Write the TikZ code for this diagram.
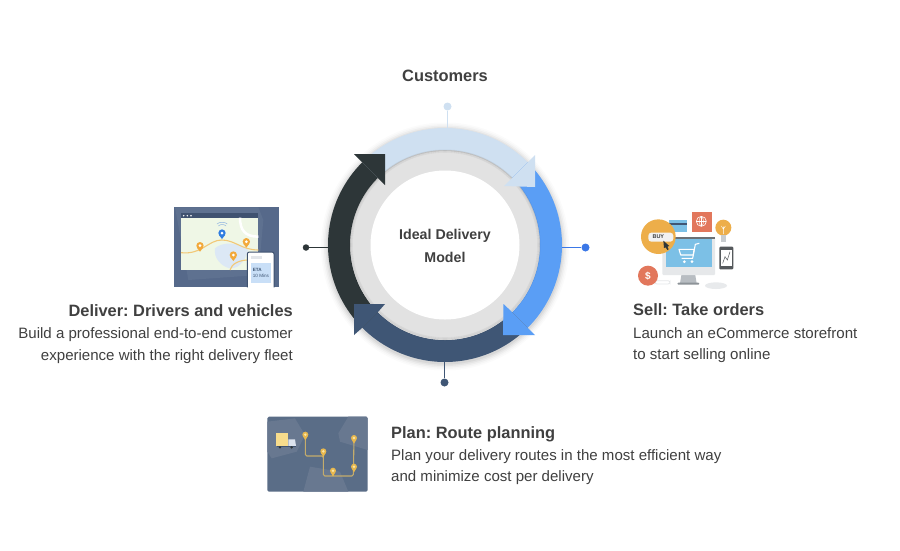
\documentclass[tikz,border=0pt]{standalone}
\usepackage{fontspec}
\setmainfont{Liberation Sans}
\frenchspacing
\definecolor{cLight}{HTML}{CFE0F1}
\definecolor{cBlue}{HTML}{5A9EF5}
\definecolor{cBlueDot}{HTML}{3B78E7}
\definecolor{cNavy}{HTML}{3F5675}
\definecolor{cDark}{HTML}{2D3638}
\definecolor{cText}{HTML}{404040}
\definecolor{cSlate}{HTML}{5A6D87}
\definecolor{cOrange}{HTML}{EDAE4A}
\definecolor{cRed}{HTML}{E2775C}
\definecolor{cSky}{HTML}{7CC0E6}
\definecolor{cPinO}{HTML}{F2A93B}
\definecolor{cPinB}{HTML}{2F7DE1}
\tikzset{
  hx/.code={\definecolor{tmpc}{HTML}{#1}\tikzset{color=tmpc}},
  dot/.style={circle,inner sep=0pt,minimum size=8pt,draw=none},
  stem/.style={line width=1.5pt},
  titletext/.style={text=cText,font=\bfseries\fontsize{16.4}{18}\selectfont,inner sep=0pt},
  bodytext/.style={text=cText,font=\fontsize{15.05}{17}\selectfont,inner sep=0pt},
}
\newcommand{\sector}[3]{% colour, from, to
  \fill[#1] plot[domain=#2:#3,samples=40] ({445+117*cos(\x)},{245-117*sin(\x)})
   -- plot[domain=#3:#2,samples=40] ({445+95*cos(\x)},{245-95*sin(\x)}) -- cycle;}
\begin{document}
\begin{tikzpicture}[x=1pt,y=-1pt]
\useasboundingbox (0,0) rectangle (900,550);
\fill[white] (0,0) rectangle (900,550);
% soft outer shadow
\foreach \r/\o in {124/.015,122.5/.02,121/.03,119.5/.04,118/.05}
  \fill[black,opacity=\o] (445,246.5) circle[radius=\r pt];
% ring
\coordinate (ringtop) at (447.5,128);
\coordinate (ringright) at (561,247.5);
\coordinate (ringbottom) at (444.5,361);
\coordinate (ringleft) at (329,247.5);
\node[dot,fill=cLight] (dtop) at (447.5,106.5) {};
\node[dot,fill=cBlueDot] (dright) at (585.5,247.5) {};
\node[dot,fill=cNavy] (dbottom) at (444.5,382.5) {};
\node[dot,fill=cDark,minimum size=6.5pt] (dleft) at (306,247.5) {};
\draw[stem,cLight] (dtop) -- (ringtop);
\draw[stem,cBlueDot] (dright) -- (ringright);
\draw[stem,cNavy] (dbottom) -- (ringbottom);
\draw[stem,cDark,line width=1.2pt] (dleft) -- (ringleft);
\sector{cLight}{135}{45}
\sector{cBlue}{45}{-45}
\sector{cNavy}{-45}{-135}
\sector{cDark}{-135}{-225}
% gray ring
\fill[black,opacity=.06] (445,245) circle[radius=95.5pt];
\fill[hx=E2E2E2] (445,245.5) circle[radius=94.5pt];
\foreach \r/\o in {94.5/.05,94/.05,93.5/.04,93/.03,92.5/.03}
  \draw[black,opacity=\o,line width=.6pt] (445,245) circle[radius=\r pt];
\fill[white] (445,245) circle[radius=74.5pt];
% arrow heads
\fill[cLight] (528,162) -- (535,155) -- (535,187) -- (504,186) -- (512,178) -- cycle;
\fill[cBlue] (528,328) -- (535,335) -- (503,335) -- (503.5,304) -- (512,312) -- cycle;
\fill[cNavy] (362,328) -- (354,335) -- (354,304) -- (385,304) -- (378,312) -- cycle;
\fill[cDark] (362,162) -- (354,154) -- (385,154) -- (385,185) -- (378,178) -- cycle;
\node[titletext,font=\bfseries\fontsize{14.2}{17}\selectfont] (centerA) at (445,236) {Ideal Delivery};
\node[titletext,font=\bfseries\fontsize{14.2}{17}\selectfont] (centerB) at (445,257) {Model};
\node[titletext,anchor=base] (customers) at (445,81.5) {Customers};
% texts
\node[titletext,anchor=base east] (dt) at (293,316) {Deliver: Drivers and vehicles};
\node[bodytext,anchor=base east] (d1) at (293,338) {Build a professional end-to-end customer};
\node[bodytext,anchor=base east] (d2) at (293,360) {experience with the right delivery fleet};
\node[titletext,anchor=base west] (st) at (633,315) {Sell: Take orders};
\node[bodytext,anchor=base west] (s1) at (633,338) {Launch an eCommerce storefront};
\node[bodytext,anchor=base west] (s2) at (633,359) {to start selling online};
\node[titletext,anchor=base west] (pt) at (391,438) {Plan: Route planning};
\node[bodytext,anchor=base west] (p1) at (391,460) {Plan your delivery routes in the most efficient way};
\node[bodytext,anchor=base west] (p2) at (391,481) {and minimize cost per delivery};
% Deliver icon
\begin{scope}[shift={(165,200)},scale=1/3]
  \fill[hx=56698A] (28,22) rectangle (343,262);
  \fill[hx=5E7190] (30,22) -- (280,22) -- (295,60) -- (280,225) -- (70,240) -- cycle;
  \fill[hx=EFF7E6] (48,53) rectangle (280,210);
  \fill[hx=3F5270] (48,40) rectangle (280,53);
  \foreach \x in {56,67,78} \fill[white] (\x,47) circle[radius=2.5pt];
  \fill[hx=DCE8F5] (150,145) .. controls (170,125) and (225,125) .. (250,150)
     .. controls (240,175) and (230,205) .. (195,205) .. controls (170,200) and (145,175) .. (150,145) -- cycle;
  \draw[white,line width=2.5pt] (225,53) .. controls (225,90) and (240,110) .. (280,110);
  \draw[hx=F2C877,line width=1.1pt] (48,158) .. controls (110,165) and (130,120) .. (170,120)
     .. controls (210,120) and (230,150) .. (280,150);
  \draw[hx=F2C877,line width=1.1pt] (195,210) .. controls (200,190) and (225,180) .. (250,180);
  \foreach \x/\y/\c in {105/137/cPinO,244/125/cPinO,205/165/cPinO,171/99/cPinB}{
    \fill[\c] (\x,\y) circle[radius=11pt];
    \fill[\c] (\x-9,\y+6) -- (\x,\y+18) -- (\x+9,\y+6) -- cycle;
    \fill[white] (\x,\y) circle[radius=4.5pt];
  }
  \draw[hx=8FB4E0,line width=.5pt] (160,78) .. controls (165,72) and (178,72) .. (183,78);
  \draw[hx=8FB4E0,line width=.5pt] (156,72) .. controls (163,65) and (180,65) .. (187,72);
  \fill[white] (245,155) rectangle (328,262);
  \draw[hx=3F5270,line width=1pt,rounded corners=2pt] (247,262) -- (247,156) -- (327,156) -- (327,262);
  \fill[hx=C9DFF7] (257,190) rectangle (318,250);
  \fill[hx=E3E6EA] (257,168) rectangle (290,178);
  \node[font=\bfseries\fontsize{4.6}{5}\selectfont,text=cNavy,inner sep=0pt,anchor=west] (eta) at (263,209) {ETA};
  \node[font=\fontsize{4.6}{5}\selectfont,text=cNavy,inner sep=0pt,anchor=west] (mins) at (263,229) {10 Mins};
\end{scope}
% Sell icon
\begin{scope}[shift={(630,210)},scale=1/3]
  \draw[hx=E5E7E9,line width=.8pt,rounded corners=2pt] (75,212) rectangle (120,222);
  \draw[hx=E5E7E9,line width=.8pt] (100,180) -- (145,180);
  \fill[cRed] (185,5) rectangle (245,65);
  \draw[white,line width=.6pt] (214,34) circle[radius=15pt];
  \draw[white,line width=.4pt] (199,34) -- (229,34) (214,19) -- (214,49);
  \draw[white,line width=.4pt] (214,19) .. controls (205,27) and (205,41) .. (214,49) .. controls (223,41) and (223,27) .. (214,19);
  \fill[cSky] (117,30) rectangle (172,65);
  \fill[hx=3F5675] (117,38) rectangle (172,44);
  % monitor
  \fill[hx=B8BDC2] (155,190) -- (195,190) -- (200,220) -- (150,220) -- cycle;
  \fill[hx=8D9398,rounded corners=1pt] (142,218) rectangle (208,224);
  \fill[hx=E6E8EA,rounded corners=1pt] (97,82) rectangle (255,195);
  \fill[hx=6B7075] (97,82) rectangle (255,88);
  \fill[cSky] (107,88) rectangle (245,172);
  \draw[white,line width=1.1pt,line join=round] (208,100) -- (196,103) -- (188,145) -- (155,145);
  \draw[white,line width=1.1pt,line join=round] (147,118) -- (192,118) -- (190,135) -- (152,135) -- cycle;
  \fill[white] (163,155) circle[radius=4.5pt] (186,155) circle[radius=4.5pt];
  % orange badge
  \fill[cOrange] (85,80) circle[radius=52pt];
  \fill[hx=F2F2F2,rounded corners=3pt] (55,68) rectangle (130,95);
  \node[font=\bfseries\fontsize{5.5}{6}\selectfont,text=cText,inner sep=0pt] (buy) at (85,81) {BUY};
  \fill[hx=2D3638] (100,92) -- (118,108) -- (112,110) -- (116,118) -- (112,120) -- (107,112) -- (102,114) -- cycle;
  % bulb
  \fill[cOrange] (280,53) circle[radius=24pt];
  \fill[hx=C9CDD0] (272,74) rectangle (288,95);
  \draw[white,line width=.4pt] (280,72) -- (280,50) (274,48) -- (280,58) -- (286,48);
  % phone
  \fill[hx=55595C,rounded corners=1pt] (268,110) rectangle (310,178);
  \fill[white] (272,119) rectangle (306,168);
  \draw[hx=55595C,line width=.5pt] (278,160) -- (285,140) -- (292,150) -- (300,125);
  % dollar
  \fill[cRed] (54,197) circle[radius=30pt];
  \node[font=\bfseries\fontsize{10}{10}\selectfont,text=white,inner sep=0pt] (dollar) at (54,197) {\$};
  % mouse
  \fill[hx=E8EAEC] (258,227) ellipse[x radius=33pt,y radius=10pt];
\end{scope}
% Plan icon
\begin{scope}[shift={(260,410)},scale=1/3]
  \fill[cSlate,rounded corners=1.5pt] (22,20) rectangle (323,245);
  \fill[hx=687890] (22,35) -- (105,25) -- (135,75) -- (110,125) -- (35,145) -- (22,125) -- cycle;
  \fill[hx=687890] (265,20) -- (320,20) -- (323,25) -- (323,120) -- (240,95) -- (235,70) -- cycle;
  \fill[hx=687890] (150,170) -- (240,185) -- (265,245) -- (130,245) -- cycle;
  \draw[hx=C4AC6C,line width=1.1pt,rounded corners=1.5pt] (136,74) -- (136,138) -- (190,138) -- (190,198) -- (280,198) -- (282,84);
  \draw[hx=C4AC6C,line width=1.1pt] (190,124) -- (190,140) (219,182) -- (219,198);
  \fill[hx=F7DC8C] (47,70) rectangle (85,108);
  \fill[hx=DCE3EE] (85,88) -- (105,88) -- (108,108) -- (85,108) -- cycle;
  \fill[hx=3F5270] (50,108) rectangle (108,112);
  \fill[hx=2D3638] (60,112) circle[radius=4pt] (95,112) circle[radius=4pt];
  \foreach \x/\y in {136/74,190/124,219/182,282/84,282/170}{
    \fill[hx=E8B84E] (\x,\y) circle[radius=9pt];
    \fill[hx=E8B84E] (\x-7,\y+5) -- (\x,\y+17) -- (\x+7,\y+5) -- cycle;
    \fill[hx=FBE6A8] (\x,\y) circle[radius=4pt];
  }
\end{scope}
\end{tikzpicture}
\end{document}
